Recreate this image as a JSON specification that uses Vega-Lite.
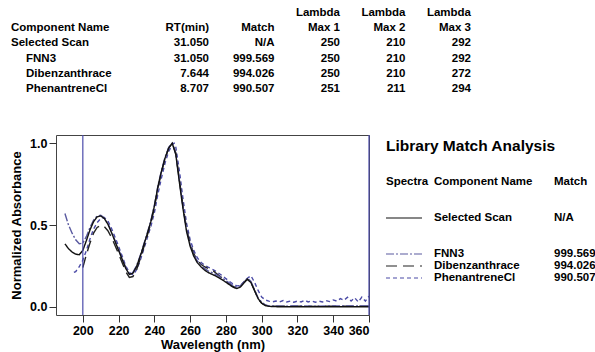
{
  "$schema": "https://vega.github.io/schema/vega-lite/v6.json",
  "padding": {"left": 10, "top": 0, "right": 0, "bottom": 0},
  "config": {
    "view": {"stroke": null},
    "font": "Liberation Sans",
    "text": {"font": "Liberation Sans", "fontWeight": "bold", "fontSize": 11.5, "color": "#000000"},
    "axis": {
      "labelFont": "Liberation Sans", "labelFontWeight": "bold", "labelFontSize": 12.5, "labelColor": "#000000", "labelOverlap": false,
      "titleFont": "Liberation Sans", "titleFontWeight": "bold", "titleFontSize": 13, "titleColor": "#000000",
      "grid": false, "domain": false, "tickColor": "#333333", "tickSize": 7
    }
  },
  "datasets": {
    "library": [
      {"name": "Selected Scan", "level": "top", "rt": "31.050", "match": "N/A", "lmax1": "250", "lmax2": "210", "lmax3": "292"},
      {"name": "FNN3", "level": "sub", "rt": "31.050", "match": "999.569", "lmax1": "250", "lmax2": "210", "lmax3": "292"},
      {"name": "Dibenzanthrace", "level": "sub", "rt": "7.644", "match": "994.026", "lmax1": "250", "lmax2": "210", "lmax3": "272"},
      {"name": "PhenantreneCl", "level": "sub", "rt": "8.707", "match": "990.507", "lmax1": "251", "lmax2": "211", "lmax3": "294"}
    ],
    "columnHeaders": [
      {"column": "rt", "row": "header", "label": "RT(min)"},
      {"column": "match", "row": "header", "label": "Match"},
      {"column": "lmax1", "row": "lambda", "label": "Lambda"},
      {"column": "lmax1", "row": "header", "label": "Max 1"},
      {"column": "lmax2", "row": "lambda", "label": "Lambda"},
      {"column": "lmax2", "row": "header", "label": "Max 2"},
      {"column": "lmax3", "row": "lambda", "label": "Lambda"},
      {"column": "lmax3", "row": "header", "label": "Max 3"}
    ],
    "cursors": [{"wavelength": 200}, {"wavelength": 360}],
    "spectra": [
      {"series": "PhenantreneCl", "wavelength": 195, "absorbance": 0.21},
      {"series": "PhenantreneCl", "wavelength": 196, "absorbance": 0.215},
      {"series": "PhenantreneCl", "wavelength": 198, "absorbance": 0.245},
      {"series": "PhenantreneCl", "wavelength": 200, "absorbance": 0.285},
      {"series": "PhenantreneCl", "wavelength": 202, "absorbance": 0.345},
      {"series": "PhenantreneCl", "wavelength": 204, "absorbance": 0.415},
      {"series": "PhenantreneCl", "wavelength": 206, "absorbance": 0.475},
      {"series": "PhenantreneCl", "wavelength": 208, "absorbance": 0.515},
      {"series": "PhenantreneCl", "wavelength": 210, "absorbance": 0.54},
      {"series": "PhenantreneCl", "wavelength": 212, "absorbance": 0.545},
      {"series": "PhenantreneCl", "wavelength": 214, "absorbance": 0.525},
      {"series": "PhenantreneCl", "wavelength": 216, "absorbance": 0.48},
      {"series": "PhenantreneCl", "wavelength": 218, "absorbance": 0.425},
      {"series": "PhenantreneCl", "wavelength": 220, "absorbance": 0.37},
      {"series": "PhenantreneCl", "wavelength": 222, "absorbance": 0.31},
      {"series": "PhenantreneCl", "wavelength": 224, "absorbance": 0.25},
      {"series": "PhenantreneCl", "wavelength": 226, "absorbance": 0.21},
      {"series": "PhenantreneCl", "wavelength": 228, "absorbance": 0.195},
      {"series": "PhenantreneCl", "wavelength": 230, "absorbance": 0.225},
      {"series": "PhenantreneCl", "wavelength": 232, "absorbance": 0.28},
      {"series": "PhenantreneCl", "wavelength": 234, "absorbance": 0.35},
      {"series": "PhenantreneCl", "wavelength": 236, "absorbance": 0.42},
      {"series": "PhenantreneCl", "wavelength": 238, "absorbance": 0.49},
      {"series": "PhenantreneCl", "wavelength": 240, "absorbance": 0.575},
      {"series": "PhenantreneCl", "wavelength": 242, "absorbance": 0.69},
      {"series": "PhenantreneCl", "wavelength": 244, "absorbance": 0.79},
      {"series": "PhenantreneCl", "wavelength": 246, "absorbance": 0.88},
      {"series": "PhenantreneCl", "wavelength": 248, "absorbance": 0.95},
      {"series": "PhenantreneCl", "wavelength": 250, "absorbance": 0.99},
      {"series": "PhenantreneCl", "wavelength": 251, "absorbance": 1.0},
      {"series": "PhenantreneCl", "wavelength": 252, "absorbance": 0.975},
      {"series": "PhenantreneCl", "wavelength": 254, "absorbance": 0.83},
      {"series": "PhenantreneCl", "wavelength": 256, "absorbance": 0.66},
      {"series": "PhenantreneCl", "wavelength": 258, "absorbance": 0.51},
      {"series": "PhenantreneCl", "wavelength": 260, "absorbance": 0.41},
      {"series": "PhenantreneCl", "wavelength": 262, "absorbance": 0.345},
      {"series": "PhenantreneCl", "wavelength": 264, "absorbance": 0.3},
      {"series": "PhenantreneCl", "wavelength": 266, "absorbance": 0.272},
      {"series": "PhenantreneCl", "wavelength": 268, "absorbance": 0.255},
      {"series": "PhenantreneCl", "wavelength": 270, "absorbance": 0.243},
      {"series": "PhenantreneCl", "wavelength": 272, "absorbance": 0.232},
      {"series": "PhenantreneCl", "wavelength": 274, "absorbance": 0.22},
      {"series": "PhenantreneCl", "wavelength": 276, "absorbance": 0.205},
      {"series": "PhenantreneCl", "wavelength": 278, "absorbance": 0.19},
      {"series": "PhenantreneCl", "wavelength": 280, "absorbance": 0.172},
      {"series": "PhenantreneCl", "wavelength": 282, "absorbance": 0.155},
      {"series": "PhenantreneCl", "wavelength": 284, "absorbance": 0.14},
      {"series": "PhenantreneCl", "wavelength": 286, "absorbance": 0.128},
      {"series": "PhenantreneCl", "wavelength": 288, "absorbance": 0.13},
      {"series": "PhenantreneCl", "wavelength": 290, "absorbance": 0.15},
      {"series": "PhenantreneCl", "wavelength": 292, "absorbance": 0.175},
      {"series": "PhenantreneCl", "wavelength": 294, "absorbance": 0.19},
      {"series": "PhenantreneCl", "wavelength": 296, "absorbance": 0.15},
      {"series": "PhenantreneCl", "wavelength": 298, "absorbance": 0.1},
      {"series": "PhenantreneCl", "wavelength": 300, "absorbance": 0.06},
      {"series": "PhenantreneCl", "wavelength": 302, "absorbance": 0.042},
      {"series": "PhenantreneCl", "wavelength": 304, "absorbance": 0.035},
      {"series": "PhenantreneCl", "wavelength": 306, "absorbance": 0.03},
      {"series": "PhenantreneCl", "wavelength": 308, "absorbance": 0.035},
      {"series": "PhenantreneCl", "wavelength": 310, "absorbance": 0.03},
      {"series": "PhenantreneCl", "wavelength": 312, "absorbance": 0.038},
      {"series": "PhenantreneCl", "wavelength": 314, "absorbance": 0.03},
      {"series": "PhenantreneCl", "wavelength": 316, "absorbance": 0.035},
      {"series": "PhenantreneCl", "wavelength": 318, "absorbance": 0.028},
      {"series": "PhenantreneCl", "wavelength": 320, "absorbance": 0.035},
      {"series": "PhenantreneCl", "wavelength": 322, "absorbance": 0.03},
      {"series": "PhenantreneCl", "wavelength": 324, "absorbance": 0.04},
      {"series": "PhenantreneCl", "wavelength": 326, "absorbance": 0.03},
      {"series": "PhenantreneCl", "wavelength": 328, "absorbance": 0.036},
      {"series": "PhenantreneCl", "wavelength": 330, "absorbance": 0.028},
      {"series": "PhenantreneCl", "wavelength": 332, "absorbance": 0.035},
      {"series": "PhenantreneCl", "wavelength": 334, "absorbance": 0.03},
      {"series": "PhenantreneCl", "wavelength": 336, "absorbance": 0.038},
      {"series": "PhenantreneCl", "wavelength": 338, "absorbance": 0.032},
      {"series": "PhenantreneCl", "wavelength": 340, "absorbance": 0.042},
      {"series": "PhenantreneCl", "wavelength": 342, "absorbance": 0.035},
      {"series": "PhenantreneCl", "wavelength": 344, "absorbance": 0.05},
      {"series": "PhenantreneCl", "wavelength": 346, "absorbance": 0.04},
      {"series": "PhenantreneCl", "wavelength": 348, "absorbance": 0.058},
      {"series": "PhenantreneCl", "wavelength": 350, "absorbance": 0.035},
      {"series": "PhenantreneCl", "wavelength": 352, "absorbance": 0.055},
      {"series": "PhenantreneCl", "wavelength": 354, "absorbance": 0.03},
      {"series": "PhenantreneCl", "wavelength": 356, "absorbance": 0.06},
      {"series": "PhenantreneCl", "wavelength": 358, "absorbance": 0.035},
      {"series": "PhenantreneCl", "wavelength": 360, "absorbance": 0.065},
      {"series": "Dibenzanthrace", "wavelength": 200, "absorbance": 0.24},
      {"series": "Dibenzanthrace", "wavelength": 202, "absorbance": 0.32},
      {"series": "Dibenzanthrace", "wavelength": 204, "absorbance": 0.39},
      {"series": "Dibenzanthrace", "wavelength": 206, "absorbance": 0.45},
      {"series": "Dibenzanthrace", "wavelength": 208, "absorbance": 0.485},
      {"series": "Dibenzanthrace", "wavelength": 210, "absorbance": 0.498},
      {"series": "Dibenzanthrace", "wavelength": 212, "absorbance": 0.49},
      {"series": "Dibenzanthrace", "wavelength": 214, "absorbance": 0.465},
      {"series": "Dibenzanthrace", "wavelength": 216, "absorbance": 0.425},
      {"series": "Dibenzanthrace", "wavelength": 218, "absorbance": 0.375},
      {"series": "Dibenzanthrace", "wavelength": 220, "absorbance": 0.325},
      {"series": "Dibenzanthrace", "wavelength": 222, "absorbance": 0.27},
      {"series": "Dibenzanthrace", "wavelength": 224, "absorbance": 0.215},
      {"series": "Dibenzanthrace", "wavelength": 226, "absorbance": 0.18},
      {"series": "Dibenzanthrace", "wavelength": 228, "absorbance": 0.185},
      {"series": "Dibenzanthrace", "wavelength": 230, "absorbance": 0.225},
      {"series": "Dibenzanthrace", "wavelength": 232, "absorbance": 0.29},
      {"series": "Dibenzanthrace", "wavelength": 234, "absorbance": 0.36},
      {"series": "Dibenzanthrace", "wavelength": 236, "absorbance": 0.435},
      {"series": "Dibenzanthrace", "wavelength": 238, "absorbance": 0.51},
      {"series": "Dibenzanthrace", "wavelength": 240, "absorbance": 0.605},
      {"series": "Dibenzanthrace", "wavelength": 242, "absorbance": 0.725},
      {"series": "Dibenzanthrace", "wavelength": 244, "absorbance": 0.825},
      {"series": "Dibenzanthrace", "wavelength": 246, "absorbance": 0.905},
      {"series": "Dibenzanthrace", "wavelength": 248, "absorbance": 0.97},
      {"series": "Dibenzanthrace", "wavelength": 250, "absorbance": 1.0},
      {"series": "Dibenzanthrace", "wavelength": 252, "absorbance": 0.94},
      {"series": "Dibenzanthrace", "wavelength": 254, "absorbance": 0.775},
      {"series": "Dibenzanthrace", "wavelength": 256, "absorbance": 0.615},
      {"series": "Dibenzanthrace", "wavelength": 258, "absorbance": 0.48},
      {"series": "Dibenzanthrace", "wavelength": 260, "absorbance": 0.39},
      {"series": "Dibenzanthrace", "wavelength": 262, "absorbance": 0.325},
      {"series": "Dibenzanthrace", "wavelength": 264, "absorbance": 0.285},
      {"series": "Dibenzanthrace", "wavelength": 266, "absorbance": 0.26},
      {"series": "Dibenzanthrace", "wavelength": 268, "absorbance": 0.245},
      {"series": "Dibenzanthrace", "wavelength": 270, "absorbance": 0.235},
      {"series": "Dibenzanthrace", "wavelength": 272, "absorbance": 0.228},
      {"series": "Dibenzanthrace", "wavelength": 274, "absorbance": 0.21},
      {"series": "Dibenzanthrace", "wavelength": 276, "absorbance": 0.192},
      {"series": "Dibenzanthrace", "wavelength": 278, "absorbance": 0.175},
      {"series": "Dibenzanthrace", "wavelength": 280, "absorbance": 0.158},
      {"series": "Dibenzanthrace", "wavelength": 282, "absorbance": 0.14},
      {"series": "Dibenzanthrace", "wavelength": 284, "absorbance": 0.125},
      {"series": "Dibenzanthrace", "wavelength": 286, "absorbance": 0.115},
      {"series": "Dibenzanthrace", "wavelength": 288, "absorbance": 0.125},
      {"series": "Dibenzanthrace", "wavelength": 290, "absorbance": 0.15},
      {"series": "Dibenzanthrace", "wavelength": 292, "absorbance": 0.17},
      {"series": "Dibenzanthrace", "wavelength": 294, "absorbance": 0.15},
      {"series": "Dibenzanthrace", "wavelength": 296, "absorbance": 0.1},
      {"series": "Dibenzanthrace", "wavelength": 298, "absorbance": 0.05},
      {"series": "Dibenzanthrace", "wavelength": 300, "absorbance": 0.022},
      {"series": "Dibenzanthrace", "wavelength": 302, "absorbance": 0.01},
      {"series": "Dibenzanthrace", "wavelength": 304, "absorbance": 0.005},
      {"series": "Dibenzanthrace", "wavelength": 310, "absorbance": 0.004},
      {"series": "Dibenzanthrace", "wavelength": 320, "absorbance": 0.004},
      {"series": "Dibenzanthrace", "wavelength": 330, "absorbance": 0.003},
      {"series": "Dibenzanthrace", "wavelength": 340, "absorbance": 0.004},
      {"series": "Dibenzanthrace", "wavelength": 350, "absorbance": 0.004},
      {"series": "Dibenzanthrace", "wavelength": 360, "absorbance": 0.004},
      {"series": "FNN3", "wavelength": 190, "absorbance": 0.57},
      {"series": "FNN3", "wavelength": 192, "absorbance": 0.5},
      {"series": "FNN3", "wavelength": 194, "absorbance": 0.45},
      {"series": "FNN3", "wavelength": 196, "absorbance": 0.41},
      {"series": "FNN3", "wavelength": 198, "absorbance": 0.385},
      {"series": "FNN3", "wavelength": 200, "absorbance": 0.39},
      {"series": "FNN3", "wavelength": 202, "absorbance": 0.43},
      {"series": "FNN3", "wavelength": 204, "absorbance": 0.485},
      {"series": "FNN3", "wavelength": 206, "absorbance": 0.53},
      {"series": "FNN3", "wavelength": 208, "absorbance": 0.555},
      {"series": "FNN3", "wavelength": 210, "absorbance": 0.56},
      {"series": "FNN3", "wavelength": 212, "absorbance": 0.545},
      {"series": "FNN3", "wavelength": 214, "absorbance": 0.51},
      {"series": "FNN3", "wavelength": 216, "absorbance": 0.46},
      {"series": "FNN3", "wavelength": 218, "absorbance": 0.405},
      {"series": "FNN3", "wavelength": 220, "absorbance": 0.35},
      {"series": "FNN3", "wavelength": 222, "absorbance": 0.295},
      {"series": "FNN3", "wavelength": 224, "absorbance": 0.24},
      {"series": "FNN3", "wavelength": 226, "absorbance": 0.205},
      {"series": "FNN3", "wavelength": 228, "absorbance": 0.21},
      {"series": "FNN3", "wavelength": 230, "absorbance": 0.25},
      {"series": "FNN3", "wavelength": 232, "absorbance": 0.31},
      {"series": "FNN3", "wavelength": 234, "absorbance": 0.38},
      {"series": "FNN3", "wavelength": 236, "absorbance": 0.45},
      {"series": "FNN3", "wavelength": 238, "absorbance": 0.525},
      {"series": "FNN3", "wavelength": 240, "absorbance": 0.62},
      {"series": "FNN3", "wavelength": 242, "absorbance": 0.74},
      {"series": "FNN3", "wavelength": 244, "absorbance": 0.835},
      {"series": "FNN3", "wavelength": 246, "absorbance": 0.915},
      {"series": "FNN3", "wavelength": 248, "absorbance": 0.975},
      {"series": "FNN3", "wavelength": 250, "absorbance": 1.0},
      {"series": "FNN3", "wavelength": 252, "absorbance": 0.935},
      {"series": "FNN3", "wavelength": 254, "absorbance": 0.77},
      {"series": "FNN3", "wavelength": 256, "absorbance": 0.61},
      {"series": "FNN3", "wavelength": 258, "absorbance": 0.47},
      {"series": "FNN3", "wavelength": 260, "absorbance": 0.38},
      {"series": "FNN3", "wavelength": 262, "absorbance": 0.32},
      {"series": "FNN3", "wavelength": 264, "absorbance": 0.28},
      {"series": "FNN3", "wavelength": 266, "absorbance": 0.255},
      {"series": "FNN3", "wavelength": 268, "absorbance": 0.235},
      {"series": "FNN3", "wavelength": 270, "absorbance": 0.22},
      {"series": "FNN3", "wavelength": 272, "absorbance": 0.21},
      {"series": "FNN3", "wavelength": 274, "absorbance": 0.2},
      {"series": "FNN3", "wavelength": 276, "absorbance": 0.188},
      {"series": "FNN3", "wavelength": 278, "absorbance": 0.175},
      {"series": "FNN3", "wavelength": 280, "absorbance": 0.16},
      {"series": "FNN3", "wavelength": 282, "absorbance": 0.145},
      {"series": "FNN3", "wavelength": 284, "absorbance": 0.13},
      {"series": "FNN3", "wavelength": 286, "absorbance": 0.12},
      {"series": "FNN3", "wavelength": 288, "absorbance": 0.128},
      {"series": "FNN3", "wavelength": 290, "absorbance": 0.152},
      {"series": "FNN3", "wavelength": 292, "absorbance": 0.175},
      {"series": "FNN3", "wavelength": 294, "absorbance": 0.155},
      {"series": "FNN3", "wavelength": 296, "absorbance": 0.105},
      {"series": "FNN3", "wavelength": 298, "absorbance": 0.055},
      {"series": "FNN3", "wavelength": 300, "absorbance": 0.028},
      {"series": "FNN3", "wavelength": 302, "absorbance": 0.012},
      {"series": "FNN3", "wavelength": 304, "absorbance": 0.006},
      {"series": "FNN3", "wavelength": 310, "absorbance": 0.004},
      {"series": "FNN3", "wavelength": 320, "absorbance": 0.005},
      {"series": "FNN3", "wavelength": 330, "absorbance": 0.004},
      {"series": "FNN3", "wavelength": 340, "absorbance": 0.006},
      {"series": "FNN3", "wavelength": 350, "absorbance": 0.005},
      {"series": "FNN3", "wavelength": 360, "absorbance": 0.006},
      {"series": "Selected Scan", "wavelength": 190, "absorbance": 0.385},
      {"series": "Selected Scan", "wavelength": 192, "absorbance": 0.355},
      {"series": "Selected Scan", "wavelength": 194, "absorbance": 0.335},
      {"series": "Selected Scan", "wavelength": 196, "absorbance": 0.322},
      {"series": "Selected Scan", "wavelength": 198, "absorbance": 0.318},
      {"series": "Selected Scan", "wavelength": 200, "absorbance": 0.345},
      {"series": "Selected Scan", "wavelength": 202, "absorbance": 0.405},
      {"series": "Selected Scan", "wavelength": 204, "absorbance": 0.47},
      {"series": "Selected Scan", "wavelength": 206, "absorbance": 0.52},
      {"series": "Selected Scan", "wavelength": 208, "absorbance": 0.55},
      {"series": "Selected Scan", "wavelength": 210, "absorbance": 0.555},
      {"series": "Selected Scan", "wavelength": 212, "absorbance": 0.54},
      {"series": "Selected Scan", "wavelength": 214, "absorbance": 0.505},
      {"series": "Selected Scan", "wavelength": 216, "absorbance": 0.455},
      {"series": "Selected Scan", "wavelength": 218, "absorbance": 0.4},
      {"series": "Selected Scan", "wavelength": 220, "absorbance": 0.345},
      {"series": "Selected Scan", "wavelength": 222, "absorbance": 0.29},
      {"series": "Selected Scan", "wavelength": 224, "absorbance": 0.235},
      {"series": "Selected Scan", "wavelength": 226, "absorbance": 0.198},
      {"series": "Selected Scan", "wavelength": 228, "absorbance": 0.205},
      {"series": "Selected Scan", "wavelength": 230, "absorbance": 0.245},
      {"series": "Selected Scan", "wavelength": 232, "absorbance": 0.305},
      {"series": "Selected Scan", "wavelength": 234, "absorbance": 0.375},
      {"series": "Selected Scan", "wavelength": 236, "absorbance": 0.445},
      {"series": "Selected Scan", "wavelength": 238, "absorbance": 0.52},
      {"series": "Selected Scan", "wavelength": 240, "absorbance": 0.615},
      {"series": "Selected Scan", "wavelength": 242, "absorbance": 0.735},
      {"series": "Selected Scan", "wavelength": 244, "absorbance": 0.83},
      {"series": "Selected Scan", "wavelength": 246, "absorbance": 0.91},
      {"series": "Selected Scan", "wavelength": 248, "absorbance": 0.97},
      {"series": "Selected Scan", "wavelength": 250, "absorbance": 1.0},
      {"series": "Selected Scan", "wavelength": 252, "absorbance": 0.93},
      {"series": "Selected Scan", "wavelength": 254, "absorbance": 0.76},
      {"series": "Selected Scan", "wavelength": 256, "absorbance": 0.6},
      {"series": "Selected Scan", "wavelength": 258, "absorbance": 0.46},
      {"series": "Selected Scan", "wavelength": 260, "absorbance": 0.37},
      {"series": "Selected Scan", "wavelength": 262, "absorbance": 0.31},
      {"series": "Selected Scan", "wavelength": 264, "absorbance": 0.27},
      {"series": "Selected Scan", "wavelength": 266, "absorbance": 0.245},
      {"series": "Selected Scan", "wavelength": 268, "absorbance": 0.225},
      {"series": "Selected Scan", "wavelength": 270, "absorbance": 0.21},
      {"series": "Selected Scan", "wavelength": 272, "absorbance": 0.2},
      {"series": "Selected Scan", "wavelength": 274, "absorbance": 0.19},
      {"series": "Selected Scan", "wavelength": 276, "absorbance": 0.178},
      {"series": "Selected Scan", "wavelength": 278, "absorbance": 0.165},
      {"series": "Selected Scan", "wavelength": 280, "absorbance": 0.15},
      {"series": "Selected Scan", "wavelength": 282, "absorbance": 0.135},
      {"series": "Selected Scan", "wavelength": 284, "absorbance": 0.12},
      {"series": "Selected Scan", "wavelength": 286, "absorbance": 0.112},
      {"series": "Selected Scan", "wavelength": 288, "absorbance": 0.12},
      {"series": "Selected Scan", "wavelength": 290, "absorbance": 0.145},
      {"series": "Selected Scan", "wavelength": 292, "absorbance": 0.168},
      {"series": "Selected Scan", "wavelength": 294, "absorbance": 0.148},
      {"series": "Selected Scan", "wavelength": 296, "absorbance": 0.1},
      {"series": "Selected Scan", "wavelength": 298, "absorbance": 0.05},
      {"series": "Selected Scan", "wavelength": 300, "absorbance": 0.022},
      {"series": "Selected Scan", "wavelength": 302, "absorbance": 0.008},
      {"series": "Selected Scan", "wavelength": 304, "absorbance": 0.003},
      {"series": "Selected Scan", "wavelength": 310, "absorbance": 0.0},
      {"series": "Selected Scan", "wavelength": 320, "absorbance": 0.0},
      {"series": "Selected Scan", "wavelength": 330, "absorbance": 0.0},
      {"series": "Selected Scan", "wavelength": 340, "absorbance": 0.0},
      {"series": "Selected Scan", "wavelength": 350, "absorbance": 0.0},
      {"series": "Selected Scan", "wavelength": 360, "absorbance": 0.0}
    ]
  },
  "spacing": 13,
  "vconcat": [
    {
      "width": 420,
      "height": 120,
      "resolve": {"scale": {"x": "independent"}},
      "layer": [
        {
          "data": {"name": "library"},
          "mark": {"type": "text", "align": "left", "baseline": "middle"},
          "encoding": {
            "x": {"field": "level", "type": "nominal", "scale": {"type": "point", "padding": 0, "domain": ["top", "sub"], "range": [-45, -30]}, "axis": null},
            "y": {"field": "name", "type": "nominal", "scale": {"type": "point", "padding": 0, "domain": ["lambda", "header", "Selected Scan", "FNN3", "Dibenzanthrace", "PhenantreneCl"], "range": [13, 89]}, "axis": null},
            "text": {"field": "name"}
          }
        },
        {
          "data": {"values": [{"label": "Component Name", "level": "top", "row": "header"}]},
          "mark": {"type": "text", "align": "left", "baseline": "middle"},
          "encoding": {
            "x": {"field": "level", "type": "nominal", "scale": {"type": "point", "padding": 0, "domain": ["top", "sub"], "range": [-45, -30]}, "axis": null},
            "y": {"field": "row", "type": "nominal", "scale": {"type": "point", "padding": 0, "domain": ["lambda", "header", "Selected Scan", "FNN3", "Dibenzanthrace", "PhenantreneCl"], "range": [13, 89]}, "axis": null},
            "text": {"field": "label"}
          }
        },
        {
          "data": {"name": "library"},
          "transform": [{"fold": ["rt", "match", "lmax1", "lmax2", "lmax3"], "as": ["column", "value"]}],
          "mark": {"type": "text", "align": "right", "baseline": "middle"},
          "encoding": {
            "x": {"field": "column", "type": "nominal", "scale": {"type": "point", "padding": 0, "domain": ["rt", "match", "lmax1", "lmax2", "lmax3"], "range": [153, 415]}, "axis": null},
            "y": {"field": "name", "type": "nominal", "scale": {"type": "point", "padding": 0, "domain": ["lambda", "header", "Selected Scan", "FNN3", "Dibenzanthrace", "PhenantreneCl"], "range": [13, 89]}, "axis": null},
            "text": {"field": "value"}
          }
        },
        {
          "data": {"name": "columnHeaders"},
          "mark": {"type": "text", "align": "right", "baseline": "middle"},
          "encoding": {
            "x": {"field": "column", "type": "nominal", "scale": {"type": "point", "padding": 0, "domain": ["rt", "match", "lmax1", "lmax2", "lmax3"], "range": [153, 415]}, "axis": null},
            "y": {"field": "row", "type": "nominal", "scale": {"type": "point", "padding": 0, "domain": ["lambda", "header", "Selected Scan", "FNN3", "Dibenzanthrace", "PhenantreneCl"], "range": [13, 89]}, "axis": null},
            "text": {"field": "label"}
          }
        }
      ]
    },
    {
      "spacing": 4,
      "hconcat": [
        {
          "width": 313,
          "height": 180,
          "view": {"stroke": "#444444", "strokeWidth": 1},
          "encoding": {
            "x": {"field": "wavelength", "type": "quantitative", "scale": {"domain": [185, 360], "nice": false, "zero": false},
                  "axis": {"values": [200, 220, 240, 260, 280, 300, 320, 340, 360], "labelOverlap": false, "labelSeparation": 0, "title": "Wavelength (nm)", "labelPadding": 2, "titlePadding": 2}}
          },
          "layer": [
            {
              "data": {"name": "spectra"},
              "mark": {"type": "line", "strokeWidth": 1.4},
              "encoding": {
                "y": {"field": "absorbance", "type": "quantitative", "scale": {"domain": [-0.05, 1.05], "nice": false, "zero": false},
                      "axis": {"values": [0, 0.5, 1], "format": ".1f", "labelOverlap": false, "title": "Normalized Absorbance", "labelPadding": 2, "titlePadding": 6}},
                "color": {"field": "series", "type": "nominal", "scale": {"domain": ["Selected Scan", "FNN3", "Dibenzanthrace", "PhenantreneCl"], "range": ["#111111", "#5a5aa0", "#222222", "#4a4aa6"]}, "legend": null},
                "strokeDash": {"field": "series", "type": "nominal", "scale": {"domain": ["Selected Scan", "FNN3", "Dibenzanthrace", "PhenantreneCl"], "range": [[1, 0], [8, 2, 2, 2], [11, 6], [4, 3]]}, "legend": null}
              }
            },
            {
              "data": {"name": "cursors"},
              "mark": {"type": "rule", "color": "#4b4bab", "strokeWidth": 1.2},
              "encoding": {}
            }
          ]
        },
        {
          "width": 205,
          "height": 180,
          "layer": [
            {
              "data": {"values": [{"title": "Library Match Analysis"}]},
              "mark": {"type": "text", "align": "left", "baseline": "middle", "fontSize": 15.5},
              "encoding": {
                "x": {"datum": "spectra", "type": "nominal", "scale": {"type": "point", "padding": 0, "domain": ["spectra", "c1", "c2", "sampleEnd", "name", "c5", "c6", "c7", "c8", "c9", "c10", "c11", "c12", "c13", "match"], "range": [9, 177]}, "axis": null},
                "y": {"datum": "title", "type": "nominal", "scale": {"type": "point", "padding": 0, "domain": ["title", "t1", "t2", "header", "g1", "g2", "Selected Scan", "g3", "g4", "FNN3", "Dibenzanthrace", "PhenantreneCl"], "range": [11, 143]}, "axis": null},
                "text": {"field": "title"}
              }
            },
            {
              "data": {"values": [{"column": "spectra", "label": "Spectra"}, {"column": "name", "label": "Component Name"}, {"column": "match", "label": "Match"}]},
              "mark": {"type": "text", "align": "left", "baseline": "middle"},
              "encoding": {
                "x": {"field": "column", "type": "nominal", "scale": {"type": "point", "padding": 0, "domain": ["spectra", "c1", "c2", "sampleEnd", "name", "c5", "c6", "c7", "c8", "c9", "c10", "c11", "c12", "c13", "match"], "range": [9, 177]}, "axis": null},
                "y": {"datum": "header", "type": "nominal", "scale": {"type": "point", "padding": 0, "domain": ["title", "t1", "t2", "header", "g1", "g2", "Selected Scan", "g3", "g4", "FNN3", "Dibenzanthrace", "PhenantreneCl"], "range": [11, 143]}, "axis": null},
                "text": {"field": "label"}
              }
            },
            {
              "data": {"name": "library"},
              "mark": {"type": "rule", "strokeWidth": 1.2},
              "encoding": {
                "x": {"datum": "spectra", "type": "nominal", "scale": {"type": "point", "padding": 0, "domain": ["spectra", "c1", "c2", "sampleEnd", "name", "c5", "c6", "c7", "c8", "c9", "c10", "c11", "c12", "c13", "match"], "range": [9, 177]}, "axis": null},
                "x2": {"datum": "sampleEnd"},
                "y": {"field": "name", "type": "nominal", "scale": {"type": "point", "padding": 0, "domain": ["title", "t1", "t2", "header", "g1", "g2", "Selected Scan", "g3", "g4", "FNN3", "Dibenzanthrace", "PhenantreneCl"], "range": [11, 143]}, "axis": null},
                "color": {"field": "name", "type": "nominal", "scale": {"domain": ["Selected Scan", "FNN3", "Dibenzanthrace", "PhenantreneCl"], "range": ["#111111", "#5a5aa0", "#222222", "#4a4aa6"]}, "legend": null},
                "strokeDash": {"field": "name", "type": "nominal", "scale": {"domain": ["Selected Scan", "FNN3", "Dibenzanthrace", "PhenantreneCl"], "range": [[1, 0], [8, 2, 2, 2], [11, 6], [4, 3]]}, "legend": null}
              }
            },
            {
              "data": {"name": "library"},
              "mark": {"type": "text", "align": "left", "baseline": "middle"},
              "encoding": {
                "x": {"datum": "name", "type": "nominal", "scale": {"type": "point", "padding": 0, "domain": ["spectra", "c1", "c2", "sampleEnd", "name", "c5", "c6", "c7", "c8", "c9", "c10", "c11", "c12", "c13", "match"], "range": [9, 177]}, "axis": null},
                "y": {"field": "name", "type": "nominal", "scale": {"type": "point", "padding": 0, "domain": ["title", "t1", "t2", "header", "g1", "g2", "Selected Scan", "g3", "g4", "FNN3", "Dibenzanthrace", "PhenantreneCl"], "range": [11, 143]}, "axis": null},
                "text": {"field": "name"}
              }
            },
            {
              "data": {"name": "library"},
              "mark": {"type": "text", "align": "left", "baseline": "middle"},
              "encoding": {
                "x": {"datum": "match", "type": "nominal", "scale": {"type": "point", "padding": 0, "domain": ["spectra", "c1", "c2", "sampleEnd", "name", "c5", "c6", "c7", "c8", "c9", "c10", "c11", "c12", "c13", "match"], "range": [9, 177]}, "axis": null},
                "y": {"field": "name", "type": "nominal", "scale": {"type": "point", "padding": 0, "domain": ["title", "t1", "t2", "header", "g1", "g2", "Selected Scan", "g3", "g4", "FNN3", "Dibenzanthrace", "PhenantreneCl"], "range": [11, 143]}, "axis": null},
                "text": {"field": "match"}
              }
            }
          ]
        }
      ]
    }
  ]
}
